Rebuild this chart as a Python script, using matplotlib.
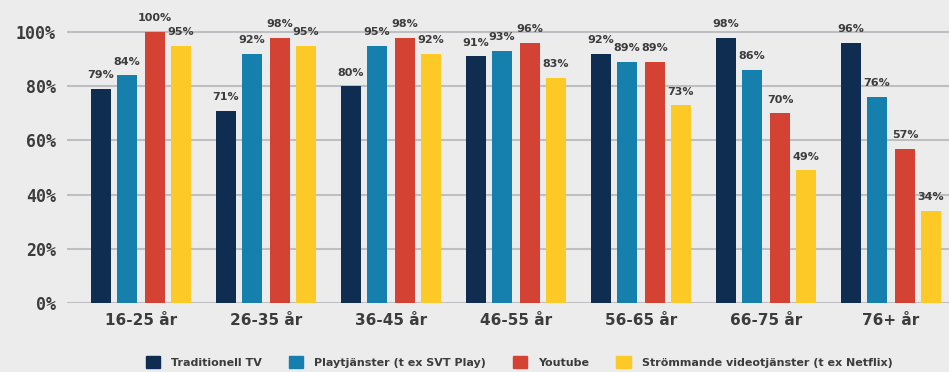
import numpy as np
import matplotlib.pyplot as plt

# Data
groups = ['16-25 år', '26-35 år', '36-45 år', '46-55 år', '56-65 år', '66-75 år', '76+ år']
series = ['Traditionell TV', 'Playtjänster (t ex SVT Play)', 'Youtube',
          'Strömmande videotjänster (t ex Netflix)']
trad_tv = [79, 71, 80, 91, 92, 98, 96]
play = [84, 92, 95, 93, 89, 86, 76]
youtube = [100, 98, 98, 96, 89, 70, 57]
streaming = [95, 95, 92, 83, 73, 49, 34]
yticks = [0, 20, 40, 60, 80, 100]

colors = ['#0f2d50', '#157fae', '#d44233', '#fdc926']
bg = '#ececec'
text_col = '#3c3c3c'

fig = plt.figure(figsize=(9.49, 3.72), dpi=100, facecolor=bg)
ax = fig.add_axes([67 / 949, 69 / 372, 882 / 949, 298 / 372], facecolor=bg)

x = np.arange(len(groups))
offsets = [-0.32, -0.112, 0.112, 0.32]
width = 0.16

for vals, off, col in zip([trad_tv, play, youtube, streaming], offsets, colors):
    bars = ax.bar(x + off, vals, width, color=col, zorder=3)
    for b, v in zip(bars, vals):
        ax.text(b.get_x() + b.get_width() / 2, v + 3.2, f'{v}%', ha='center', va='bottom',
                fontsize=8, fontweight='bold', color=text_col)

ax.set_xlim(-0.592, 6.464)
ax.set_ylim(0, 110)
ax.set_yticks(yticks)
ax.set_yticklabels([f'{t}%' for t in yticks], family='DejaVu Sans Mono',
                   fontweight='bold', fontsize=12, color=text_col)
ax.set_xticks(x)
ax.set_xticklabels(groups, fontweight='bold', fontsize=11, color=text_col)
ax.tick_params(length=0)
ax.tick_params(axis='y', pad=8)
ax.tick_params(axis='x', pad=7)
ax.grid(axis='y', color='#bdbfc2', linewidth=1.5, zorder=0)
for s in ax.spines.values():
    s.set_visible(False)

handles = [plt.Rectangle((0, 0), 1, 1, color=c) for c in colors]
fig.legend(handles, series, loc='center', bbox_to_anchor=(0.547, 0.027), ncol=4,
           frameon=False, handlelength=1.3, handleheight=1.3, columnspacing=2.4,
           handletextpad=1.0, prop={'weight': 'bold', 'size': 8}, labelcolor=text_col)

fig.savefig('out.png', dpi=100, facecolor=bg)
